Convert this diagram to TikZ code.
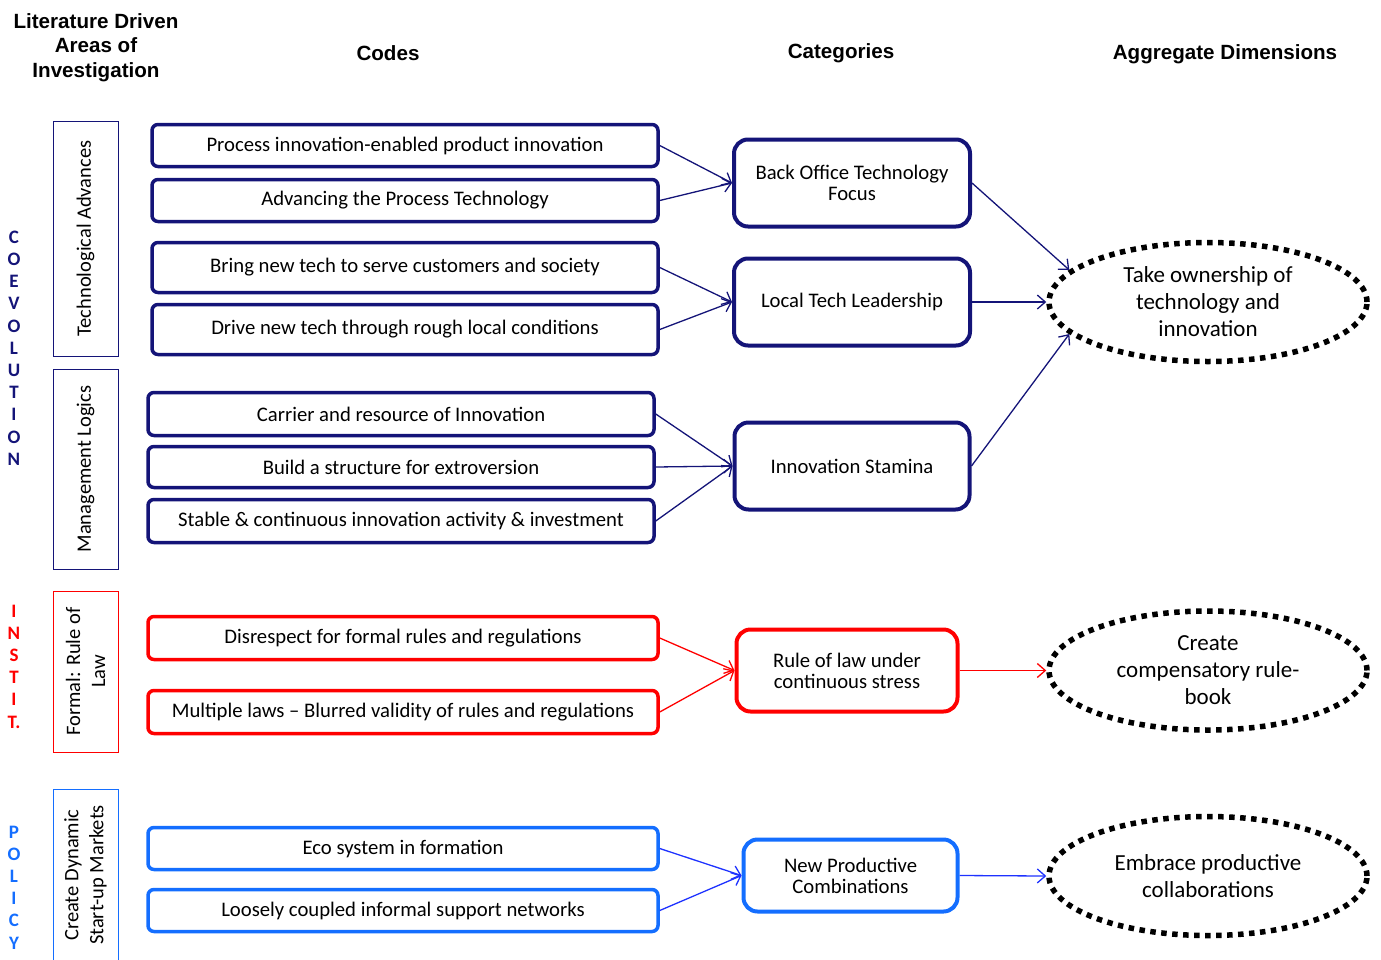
\documentclass[tikz,border=0pt]{standalone}
\usepackage{fontspec}
\setmainfont{Carlito}
\newfontfamily\headfont{Liberation Sans}
\usetikzlibrary{shapes.geometric,arrows.meta}
\definecolor{navyline}{RGB}{20,20,120}
\definecolor{redline}{RGB}{255,0,0}
\definecolor{blueline}{RGB}{20,110,255}
\definecolor{bluearrow}{RGB}{30,50,255}

\begin{document}
\begin{tikzpicture}
[x=1pt,y=-1pt,%
  >={Straight Barb[length=8pt,width=14pt]},%
  codebox/.style={shape=rectangle,draw=#1,line width=3.5pt,rounded corners=6pt,inner sep=0pt,font=\fontsize{20.7}{24}\selectfont},%
  catbox/.style={shape=rectangle,draw=#1,line width=4pt,rounded corners=14pt,inner sep=0pt,align=center,font=\fontsize{20.7}{21}\selectfont},%
  areabox/.style={shape=rectangle,draw=#1,line width=1pt,rotate=90,minimum height=65pt,inner sep=0pt,align=center,font=\fontsize{20.5}{25}\selectfont},%
  dimoval/.style={shape=ellipse,draw=black,line width=5.5pt,dash pattern=on 5.5pt off 5.5pt,minimum width=318pt,minimum height=119pt,inner sep=0pt,align=center,font=\fontsize{23}{27}\selectfont},%
  sidelabel/.style={align=center,text=#1,font=\fontsize{19}{22.2}\selectfont\bfseries},%
  headlabel/.style={align=center,font=\headfont\bfseries\fontsize{20.6}{24.5}\selectfont},%
  linkdecorate/.style={->,draw=#1,line width=1.3pt}]
\useasboundingbox (0,0) rectangle (1381,959);
%% column heads
\node[headlabel] (areahead) at (96,47.5) {Literature Driven\\Areas of\\Investigation};
\node[headlabel] (codehead) at (388,53) {Codes};
\node[headlabel] (cathead) at (841,53) {Categories};
\node[headlabel] (dimhead) at (1225,54) {Aggregate Dimensions};
%% side letters
\node[sidelabel=navyline] (coevo) at (14,348) {C\\O\\E\\V\\O\\L\\U\\T\\I\\O\\N};
\node[sidelabel=redline] (instit) at (14,666.5) {I\\N\\S\\T\\I\\T.};
\node[sidelabel=blueline] (policy) at (14,887.5) {P\\O\\L\\I\\C\\Y};
%% areas of investigation
\foreach \nodename/\y/\len/\clr/\txt in {ta/238.5/235/navyline/{Technological Advances},
  ml/469/200/navyline/{Management Logics},
  rol/671.5/161/redline/{Formal: Rule of\\Law},
  dsm/875/172/blueline/{Create Dynamic\\Start-up Markets}}
{
  \node (\nodename) at (85.5,\y) [areabox=\clr,minimum width=\len pt] {\txt};
}
%% codes
\foreach \nodename/\x/\y/\w/\h/\clr/\txt in {c1/405/145.5/506/42/navyline/{Process innovation-enabled product innovation},
  c2/405/200.5/506/42/navyline/{Advancing the Process Technology},
  c3/405/267.5/506/50/navyline/{Bring new tech to serve customers and society},
  c4/405/329.5/506/50/navyline/{Drive new tech through rough local conditions},
  c5/401/414/506/43/navyline/{Carrier and resource of Innovation},
  c6/401/467/506/41/navyline/{Build a structure for extroversion},
  c7/401/521/506/43/navyline/{Stable \& continuous innovation activity \& investment},
  c8/403/638/510/43/redline/{Disrespect for formal rules and regulations},
  c9/403/712/510/43/redline/{Multiple laws -- Blurred validity of rules and regulations},
  c10/403/848.5/510/42/blueline/{Eco system in formation},
  c11/403/910.5/510/42/blueline/{Loosely coupled informal support networks}}
{
  \node (\nodename) at (\x,\y) [codebox=\clr,minimum width=\w pt,minimum height=\h pt] {\txt};
}
%% categories
\node (bo) at (852,183) [catbox=navyline,minimum width=236pt,minimum height=87pt] {Back Office Technology\\Focus};
\node (lt) at (852,302) [catbox=navyline,minimum width=236pt,minimum height=87pt] {Local Tech Leadership};
\node (is) at (852,466) [catbox=navyline,minimum width=235pt,minimum height=87pt] {Innovation Stamina};
\node (rl) at (847,670.5) [catbox=redline,minimum width=221pt,minimum height=82pt] {Rule of law under\\continuous stress};
\node (np) at (850.5,875.5) [catbox=blueline,minimum width=214pt,minimum height=72pt] {New Productive\\Combinations};
%% aggregate dimensions
\node (own) at (1208,302) [dimoval] {Take ownership of\\technology and\\innovation};
\node (comp) at (1208,670.5) [dimoval] {Create\\compensatory rule-\\book};
\node (embr) at (1208,876) [dimoval] {Embrace productive\\collaborations};
%% edges
\path
\foreach \startnode/\endnode in {c1/bo, c2/bo, c3/lt, c4/lt, c5/is, c6/is, c7/is} {
  (\startnode.east) edge[linkdecorate=navyline] (\endnode.west)
};
\path
\foreach \startnode/\endnode in {bo.east/own.167, lt.east/own.west, is.east/own.193} {
  (\startnode) edge[linkdecorate=navyline] (\endnode)
};
\path
\foreach \startnode/\endnode in {c8/rl, c9/rl, rl/comp} {
  (\startnode.east) edge[linkdecorate=redline] (\endnode.west)
};
\path
\foreach \startnode/\endnode in {c10/np, c11/np, np/embr} {
  (\startnode.east) edge[linkdecorate=bluearrow] (\endnode.west)
};
\end{tikzpicture}
\end{document}
